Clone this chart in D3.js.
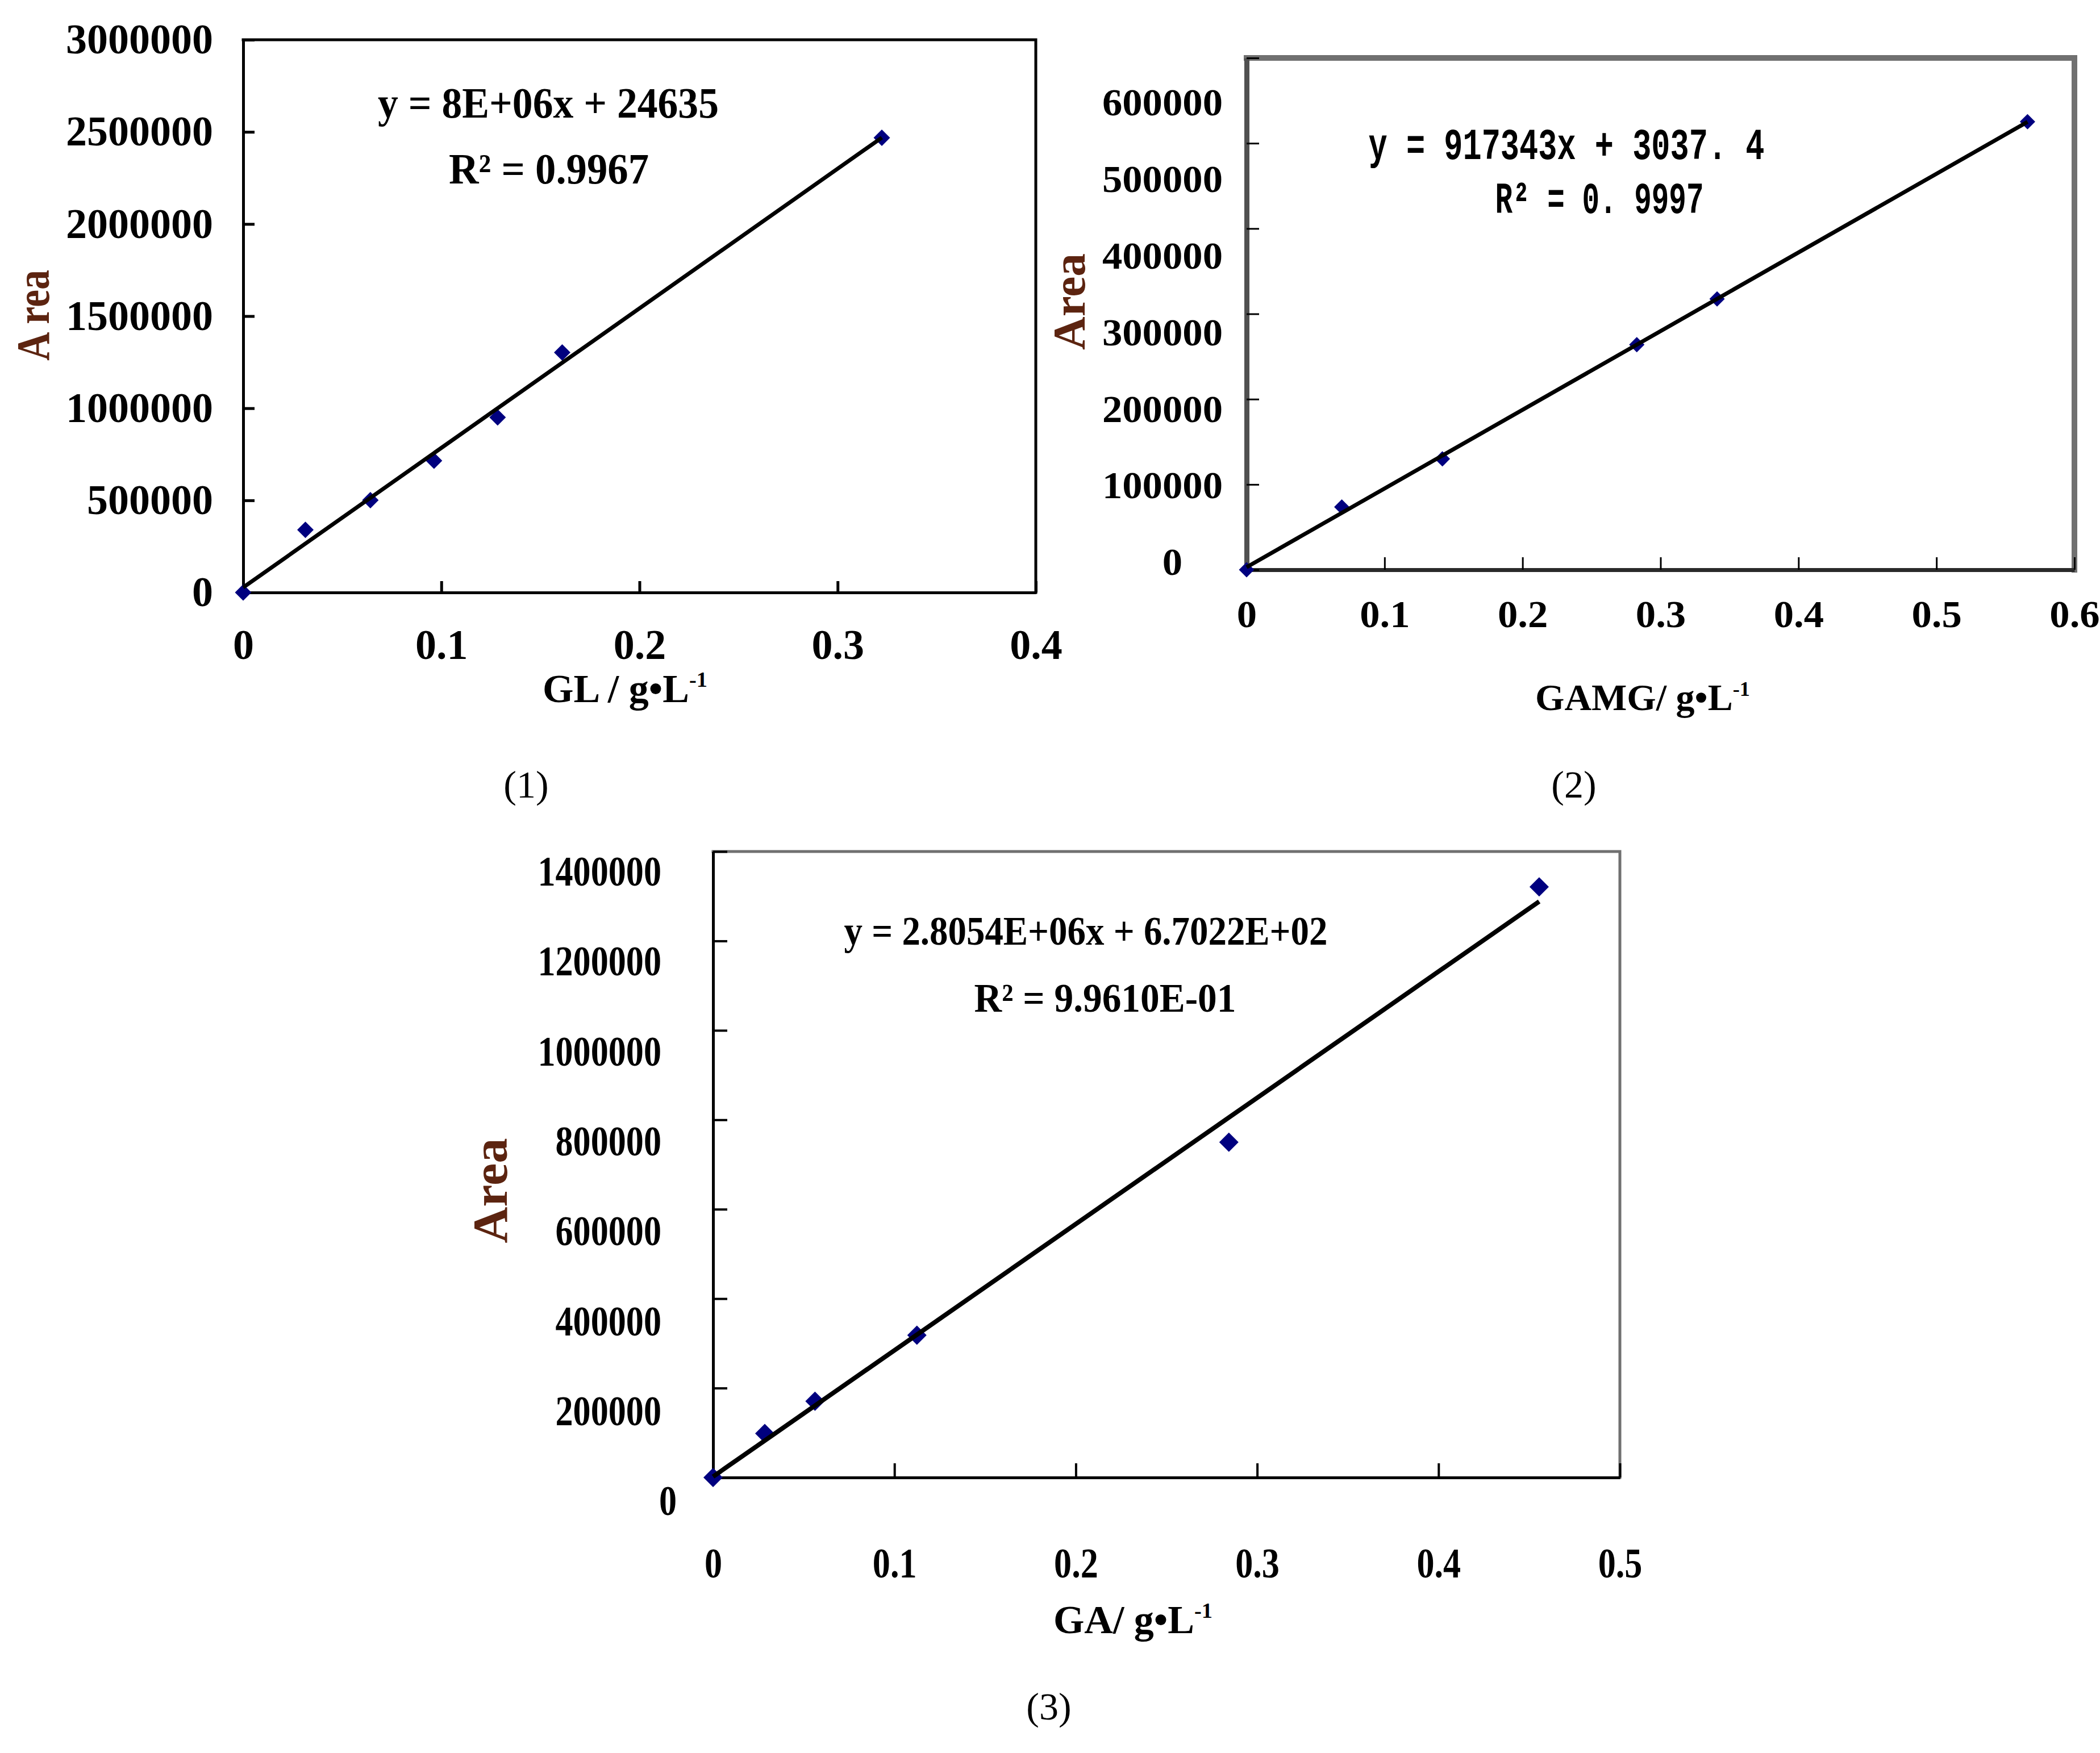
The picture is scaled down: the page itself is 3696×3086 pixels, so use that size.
<!DOCTYPE html>
<html>
<head>
<meta charset="utf-8">
<script src="https://cdn.jsdelivr.net/npm/d3@7"></script>
<style>
  body { margin: 0; background: #fff; }
  svg { display: block; }
</style>
</head>
<body>
<div id="svg-container"></div>
<script>
// ---- data ----
// (1) GL calibration
const glConc = [0, 0.0314, 0.0642, 0.0963, 0.1284, 0.161, 0.3223];
const glArea = [0, 340000, 501000, 715500, 950600, 1303000, 2468000];
const glXTicks = [0, 0.1, 0.2, 0.3, 0.4];
const glYTicks = [0, 500000, 1000000, 1500000, 2000000, 2500000, 3000000];

// (2) GAMG calibration
const gamgConc = [0, 0.069, 0.1419, 0.2828, 0.341, 0.566];
const gamgArea = [0, 73550, 129950, 263800, 317400, 525300];
const gamgXTicks = [0, 0.1, 0.2, 0.3, 0.4, 0.5, 0.6];
const gamgYTicks = [0, 100000, 200000, 300000, 400000, 500000, 600000];

// (3) GA calibration
const gaConc = [0, 0.0285, 0.0562, 0.1124, 0.2844, 0.4555];
const gaArea = [0, 98300, 170700, 318200, 749900, 1320800];
const gaXTicks = [0, 0.1, 0.2, 0.3, 0.4, 0.5];
const gaYTicks = [0, 200000, 400000, 600000, 800000, 1000000, 1200000, 1400000];

// equation labels as printed on the chart
const eqLines = [
  ["y = 8E+06x + 24635", "R\u00B2 = 0.9967"],
  ["y = 917343x + 3037. 4", "R\u00B2 = 0. 9997"],
  ["y = 2.8054E+06x + 6.7022E+02", "R\u00B2 = 9.9610E-01"]
];
const captions = ["(1)", "(2)", "(3)"];

const W = 3696, H = 3086;
const serif = "'Liberation Serif', 'Times New Roman', serif";
const mono = "'Liberation Mono', 'Courier New', monospace";
const navy = "#00007f";
const brown = "#5c2410";

const panels = [
  {
    xs: glConc, ys: glArea, xTicks: glXTicks, yTicks: glYTicks,
    left: 428, right: 1823, top: 70, bottom: 1043,
    frameColor: "#000", frameWidth: 5, axisColor: "#000", axisWidth: 5,
    tickLen: 20, tickWidth: 5, tickFont: 74, tickSX: 1, xPad: 64, yOffset: 53,
    zeroDx: 0,
    marker: 29, lineWidth: 7,
    yTitle: "A rea", yTitleX: 57, yTitleY: 555, yTitleSize: 82, yTitleLen: 160,
    xTitle: "GL / g\u2022L", xTitleX: 1100, xTitleY: 1236, xTitleSize: 70,
    eqFont: serif, eqSize: 76, eq: [[965, 207, 600], [966, 323, 352]],
    cap: [926, 1404]
  },
  {
    xs: gamgConc, ys: gamgArea, xTicks: gamgXTicks, yTicks: gamgYTicks,
    left: 2194, right: 3651, top: 102, bottom: 1003,
    frameColor: "#707070", frameWidth: 10, axisColor: "#505050", axisWidth: 9,
    bottomColor: "#2a2a2a", bottomWidth: 7,
    tickLen: 22, tickWidth: 3, tickFont: 68, tickSX: 1.04, xPad: 53, yOffset: 42,
    zeroDx: -71,
    yLabelRange: [990, 181],
    marker: 27, lineWidth: 7,
    yTitle: "Area", yTitleX: 1881, yTitleY: 531, yTitleSize: 80, yTitleLen: 170,
    xTitle: "GAMG/ g\u2022L", xTitleX: 2891, xTitleY: 1250, xTitleSize: 66,
    eqFont: mono, eqSize: 78, eq: [[2757, 280, 697], [2815, 375, 367]],
    cap: [2770, 1404]
  },
  {
    xs: gaConc, ys: gaArea, xTicks: gaXTicks, yTicks: gaYTicks,
    left: 1255, right: 2851, top: 1499, bottom: 2601,
    frameColor: "#707070", frameWidth: 5, axisColor: "#000", axisWidth: 5,
    tickLen: 25, tickWidth: 4, tickFont: 74, tickSX: 0.84, xPad: 123, yOffset: 91,
    zeroDx: 27,
    yLabelRange: [2643, 1535],
    marker: 34, lineWidth: 8,
    yTitle: "Area", yTitleX: 862, yTitleY: 2096, yTitleSize: 86, yTitleLen: 185,
    xTitle: "GA/ g\u2022L", xTitleX: 1994, xTitleY: 2875, xTitleSize: 70,
    eqFont: serif, eqSize: 72, eq: [[1911, 1663, 851], [1945, 1781, 461]],
    cap: [1846, 3027]
  }
];

d3.select('#svg-container').select('svg').remove();

const svg = d3.select("#svg-container")
  .append("svg")
  .attr("width", W)
  .attr("height", H)
  .attr("viewBox", `0 0 ${W} ${H}`);

svg.append("rect").attr("width", W).attr("height", H).attr("fill", "#fff");

const fmtX = d => d === 0 ? "0" : d3.format(".1f")(d);
const fmtY = d3.format("d");

// least squares fit used for the trendline
function fit(xs, ys) {
  const mx = d3.mean(xs), my = d3.mean(ys);
  const sxy = d3.sum(xs, (v, i) => (v - mx) * (ys[i] - my));
  const sxx = d3.sum(xs, v => (v - mx) * (v - mx));
  const a = sxy / sxx;
  return { a: a, b: my - a * mx };
}

panels.forEach((p, idx) => {
  const g = svg.append("g").attr("class", "panel-" + (idx + 1));

  const x = d3.scaleLinear()
    .domain([p.xTicks[0], p.xTicks[p.xTicks.length - 1]])
    .range([p.left, p.right]);
  const y = d3.scaleLinear()
    .domain([p.yTicks[0], p.yTicks[p.yTicks.length - 1]])
    .range([p.bottom, p.top]);
  const yLab = p.yLabelRange ? y.copy().range(p.yLabelRange) : y;

  // top and right edges of the plot area
  g.append("path")
    .attr("d", `M${p.left},${p.top}H${p.right}V${p.bottom}`)
    .attr("fill", "none")
    .attr("stroke", p.frameColor)
    .attr("stroke-width", p.frameWidth)
    .attr("stroke-linecap", "square");

  // x axis (ticks point inward)
  g.append("g")
    .attr("transform", `translate(0,${p.bottom})`)
    .call(d3.axisBottom(x).tickValues(p.xTicks).tickSize(-p.tickLen)
      .tickSizeOuter(0).tickPadding(p.xPad).tickFormat(fmtX))
    .call(s => s.select(".domain")
      .attr("stroke", p.bottomColor || p.axisColor)
      .attr("stroke-width", p.bottomWidth || p.axisWidth))
    .call(s => s.selectAll(".tick line")
      .attr("stroke", "#000").attr("stroke-width", p.tickWidth))
    .call(s => s.selectAll(".tick text")
      .attr("fill", "#000")
      .style("font-family", serif)
      .style("font-weight", "bold")
      .style("font-size", p.tickFont + "px")
      .attr("transform", `scale(${p.tickSX},1)`));

  // y axis line and inward tick marks
  g.append("g")
    .attr("transform", `translate(${p.left},0)`)
    .call(d3.axisLeft(y).tickValues(p.yTicks).tickSize(-p.tickLen)
      .tickSizeOuter(0).tickFormat(""))
    .call(s => s.select(".domain")
      .attr("stroke", p.axisColor).attr("stroke-width", p.axisWidth))
    .call(s => s.selectAll(".tick line")
      .attr("stroke", "#000").attr("stroke-width", p.tickWidth));

  // y tick labels
  g.append("g")
    .attr("transform", `translate(${p.left},0)`)
    .call(d3.axisLeft(yLab).tickValues(p.yTicks).tickSize(0)
      .tickPadding(0).tickFormat(fmtY))
    .call(s => s.select(".domain").remove())
    .call(s => s.selectAll(".tick text")
      .attr("x", 0)
      .attr("fill", "#000")
      .style("font-family", serif)
      .style("font-weight", "bold")
      .style("font-size", p.tickFont + "px")
      .attr("transform", d => {
        const dx = -p.yOffset + (d === 0 ? p.zeroDx : 0);
        return `translate(${dx},0) scale(${p.tickSX},1)`;
      }));

  // markers
  const pts = d3.zip(p.xs, p.ys);
  g.selectAll("path.pt")
    .data(pts)
    .join("path")
    .attr("class", "pt")
    .attr("d", d3.symbol(d3.symbolSquare, (p.marker * p.marker) / 2))
    .attr("transform", d => `translate(${x(d[0])},${y(d[1])}) rotate(45)`)
    .attr("fill", navy);

  // linear trendline from 0 to the last concentration
  const f = fit(p.xs, p.ys);
  const x0 = 0, x1 = d3.max(p.xs);
  g.append("path")
    .datum([[x0, f.a * x0 + f.b], [x1, f.a * x1 + f.b]])
    .attr("d", d3.line().x(d => x(d[0])).y(d => y(d[1])))
    .attr("fill", "none")
    .attr("stroke", "#000")
    .attr("stroke-width", p.lineWidth);

  // equation text
  eqLines[idx].forEach((t, k) => {
    g.append("text")
      .attr("x", p.eq[k][0])
      .attr("y", p.eq[k][1])
      .attr("text-anchor", "middle")
      .attr("textLength", p.eq[k][2])
      .attr("lengthAdjust", "spacingAndGlyphs")
      .style("font-family", p.eqFont)
      .style("font-weight", "bold")
      .style("font-size", p.eqSize + "px")
      .attr("fill", "#000")
      .text(t);
  });

  // y title
  g.append("text")
    .attr("transform", `translate(${p.yTitleX},${p.yTitleY}) rotate(-90)`)
    .attr("text-anchor", "middle")
    .attr("dy", "0.35em")
    .attr("textLength", p.yTitleLen)
    .attr("lengthAdjust", "spacingAndGlyphs")
    .style("font-family", serif)
    .style("font-weight", "bold")
    .style("font-size", p.yTitleSize + "px")
    .attr("fill", brown)
    .text(p.yTitle);

  // x title with superscript
  const xt = g.append("text")
    .attr("x", p.xTitleX)
    .attr("y", p.xTitleY)
    .attr("text-anchor", "middle")
    .style("font-family", serif)
    .style("font-weight", "bold")
    .style("font-size", p.xTitleSize + "px")
    .attr("fill", "#000");
  xt.append("tspan").text(p.xTitle);
  xt.append("tspan")
    .attr("dy", -p.xTitleSize * 0.38)
    .style("font-size", (p.xTitleSize * 0.55) + "px")
    .text("-1");

  // caption
  svg.append("text")
    .attr("x", p.cap[0])
    .attr("y", p.cap[1])
    .attr("text-anchor", "middle")
    .style("font-family", serif)
    .style("font-size", "68px")
    .attr("fill", "#000")
    .text(captions[idx]);
});
</script>
</body>
</html>
